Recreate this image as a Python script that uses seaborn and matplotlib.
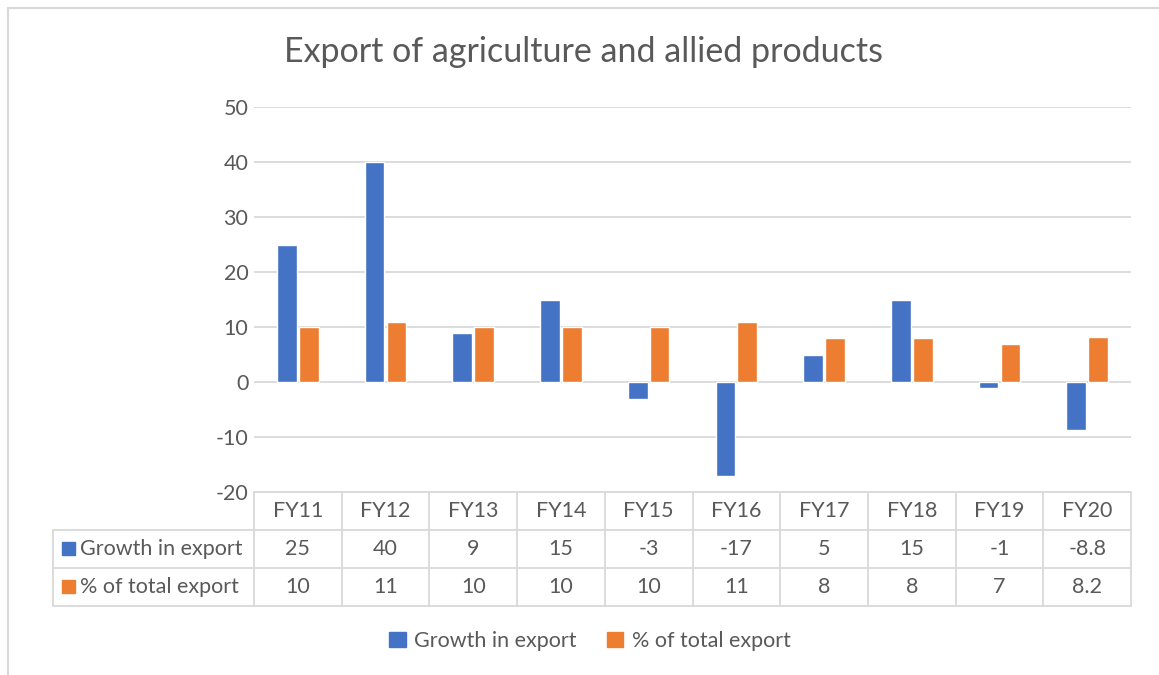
import numpy as np
import pandas as pd
import matplotlib.pyplot as plt
import seaborn as sns
from matplotlib.lines import Line2D
from matplotlib.patches import Rectangle

sns.set_theme(style="white")
plt.rcParams["font.family"] = ["Lato", "DejaVu Sans"]

# Data
years = ["FY11", "FY12", "FY13", "FY14", "FY15", "FY16", "FY17", "FY18", "FY19", "FY20"]
growth = [25, 40, 9, 15, -3, -17, 5, 15, -1, -8.8]
share = [10, 11, 10, 10, 10, 11, 8, 8, 7, 8.2]
series = ["Growth in export", "% of total export"]
colors = ["#4472C4", "#ED7D31"]

df = pd.DataFrame({
    "Year": years * 2,
    "Value": growth + share,
    "Series": [series[0]] * len(years) + [series[1]] * len(years),
})

text_c = "#595959"
grid_c = "#D9D9D9"
W, H = 1159, 675
fs = 15.5

fig = plt.figure(figsize=(W / 100, H / 100), dpi=100)
ax = fig.add_axes([254 / W, 1 - 492 / H, (1131 - 254) / W, (492 - 107) / H])

sns.barplot(data=df, x="Year", y="Value", hue="Series", palette=colors,
            width=0.5, gap=0.1, ax=ax, legend=False, saturation=1)

ax.set_ylim(-20, 50)
ax.set_xlim(-0.5, len(years) - 0.5)
ax.set_yticks(range(-20, 51, 10))
ax.set_yticklabels([str(v) for v in range(-20, 51, 10)])
ax.tick_params(axis="y", length=0, pad=4, labelsize=fs, labelcolor=text_c)
ax.set_xticks([])
ax.set_xlabel("")
ax.set_ylabel("")
for s in ax.spines.values():
    s.set_visible(False)
for v in range(-20, 51, 10):
    ax.axhline(v, color=grid_c, lw=1.3, zorder=0)

# data table under the plot
tr = ax.get_xaxis_transform()
row_h = 38 / (492 - 107)
n = len(years)
lx = -0.5 - (254 - 53) / ((1131 - 254) / n)
kw = dict(color=grid_c, lw=1.3, transform=tr, clip_on=False)
ax.add_line(Line2D([-0.5, n - 0.5], [0, 0], **kw))
for k in (1, 2, 3):
    ax.add_line(Line2D([lx, n - 0.5], [-k * row_h] * 2, **kw))
ax.add_line(Line2D([lx, lx], [-row_h, -3 * row_h], **kw))
for i in range(n + 1):
    ax.add_line(Line2D([i - 0.5, i - 0.5], [0, -3 * row_h], **kw))

tkw = dict(transform=tr, ha="center", va="center", fontsize=fs, color=text_c, clip_on=False)
for i, y in enumerate(years):
    ax.text(i, -0.5 * row_h, y, **tkw)
    ax.text(i, -1.5 * row_h, f"{growth[i]:g}", **tkw)
    ax.text(i, -2.5 * row_h, f"{share[i]:g}", **tkw)
for k, (name, c) in enumerate(zip(series, colors)):
    fig.text(80 / W, 1 - (549 + 38 * k) / H, name, ha="left", va="center",
             fontsize=fs, color=text_c)
    fig.patches.append(Rectangle((62 / W, 1 - (555 + 38 * k) / H), 13 / W, 13 / H,
                                 transform=fig.transFigure, color=c))

# legend
handles = [Rectangle((0, 0), 1, 1, color=c) for c in colors]
fig.legend(handles, series, loc="center", bbox_to_anchor=(590 / W, 1 - 641 / H),
           ncol=2, frameon=False, fontsize=fs, labelcolor=text_c,
           handlelength=0.75, handleheight=0.75, handletextpad=0.4, columnspacing=1.4)

fig.text(584 / W, 1 - 52 / H, "Export of agriculture and allied products",
         ha="center", va="center", fontsize=24.5, color=text_c)

# outer frame
fig.add_artist(Line2D([8 / W, 8 / W], [0, 1 - 8 / H], color=grid_c, lw=1.5,
                      transform=fig.transFigure))
fig.add_artist(Line2D([8 / W, 1], [1 - 8 / H, 1 - 8 / H], color=grid_c, lw=1.5,
                      transform=fig.transFigure))

fig.savefig("out.png", dpi=100)
